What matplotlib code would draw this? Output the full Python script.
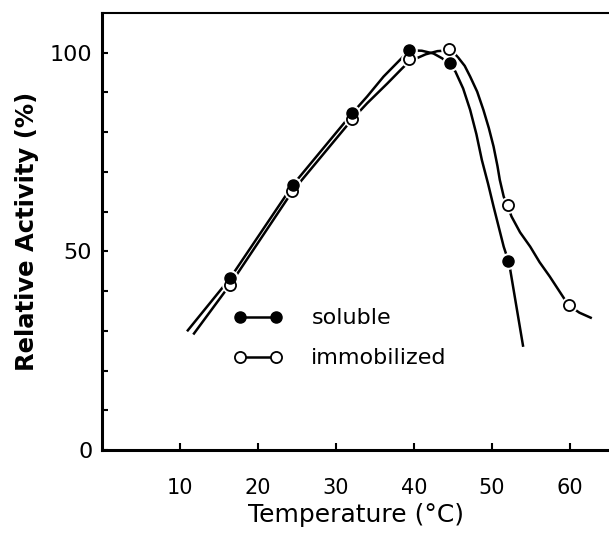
import matplotlib
matplotlib.use("Agg")
import matplotlib.pyplot as plt
from matplotlib.lines import Line2D

# measured points
sol_temp = [16.4, 24.5, 32.1, 39.4, 44.6, 52.1]
sol_act = [43.2, 66.8, 84.8, 100.7, 97.4, 47.6]
imm_temp = [16.4, 24.4, 32.1, 39.4, 44.5, 52.1, 59.9]
imm_act = [41.6, 65.1, 83.3, 98.3, 100.9, 61.7, 36.5]

# hand-drawn curves
sol_curve_t = [10.9, 16.4, 24.5, 32.1, 34.0, 36.1, 37.8, 39.4, 41.0, 42.5, 43.6, 44.4,
               45.3, 46.3, 47.2, 48.0, 48.7, 49.5, 50.2, 51.5, 52.2, 54.0]
sol_curve_v = [29.9, 43.2, 66.8, 84.8, 89.0, 94.0, 97.4, 100.6, 100.5, 99.8, 98.6, 97.4,
               95.3, 91.0, 85.6, 79.5, 73.0, 67.0, 61.3, 51.2, 47.0, 26.0]
imm_curve_t = [11.7, 16.4, 24.4, 32.1, 34.0, 36.6, 38.5, 39.4, 41.5, 43.0, 44.5,
               45.1, 45.7, 46.5, 47.2, 48.1, 48.9, 49.6, 50.2, 50.7, 51.0, 51.5, 52.1,
               52.5, 53.6, 54.9, 56.1, 57.4, 58.7, 59.8, 61.2, 62.8]
imm_curve_v = [29.1, 41.6, 65.1, 83.3, 87.3, 92.3, 96.1, 97.8, 99.6, 100.4, 100.6,
               100.0, 98.7, 96.7, 94.0, 90.2, 85.6, 81.0, 76.4, 71.5, 68.0, 63.8, 60.9,
               58.8, 54.8, 51.2, 47.3, 43.7, 39.8, 36.5, 34.6, 33.2]

x_ticks = [10, 20, 30, 40, 50, 60]
y_ticks = [0, 50, 100]

fig = plt.figure(figsize=(6.09, 5.34), dpi=100)
ax = fig.add_axes([0.1675, 0.157, 0.8325, 0.8187])

ax.plot(imm_curve_t, imm_curve_v, color="black", lw=1.8, solid_capstyle="butt")
ax.plot(sol_curve_t, sol_curve_v, color="black", lw=1.8, solid_capstyle="butt")
# small white gap around the points, as in the drawing
ax.plot(imm_temp, imm_act, "o", ms=11, mfc="white", mec="white")
ax.plot(sol_temp, sol_act, "o", ms=11, mfc="white", mec="white")
ax.plot(imm_temp, imm_act, "o", ms=8, mfc="white", mec="black", mew=1.3)
ax.plot(sol_temp, sol_act, "o", ms=8, mfc="black", mec="black")

ax.set_xlim(0, 65)
ax.set_ylim(0, 110)
ax.set_xticks(x_ticks)
ax.set_yticks(y_ticks)
ax.set_yticks(range(0, 110, 10), minor=True)
ax.tick_params(axis="x", direction="in", length=5, width=1.5, pad=20, labelsize=15)
ax.tick_params(axis="y", which="both", direction="in", length=4, width=1.5, pad=7, labelsize=16)

for s in ["left", "bottom"]:
    ax.spines[s].set_linewidth(2.2)
ax.spines["top"].set_linewidth(1.5)
ax.spines["right"].set_visible(False)

ax.set_ylabel("Relative Activity (%)", fontsize=17.5, fontweight="bold", labelpad=8)
ax.set_xlabel("Temperature (°C)", fontsize=18, labelpad=4)

handles = [
    Line2D([], [], color="black", lw=1.8, marker="o", ms=8, mfc="black", mec="black"),
    Line2D([], [], color="black", lw=1.8, marker="o", ms=8, mfc="white", mec="black", mew=1.3),
]
ax.legend(handles, ["soluble", "immobilized"], loc="upper left",
          bbox_to_anchor=(0.22, 0.37), frameon=False, numpoints=2,
          handlelength=2.2, handletextpad=1.3, labelspacing=0.9, fontsize=16)

fig.savefig("out.png", dpi=100)
